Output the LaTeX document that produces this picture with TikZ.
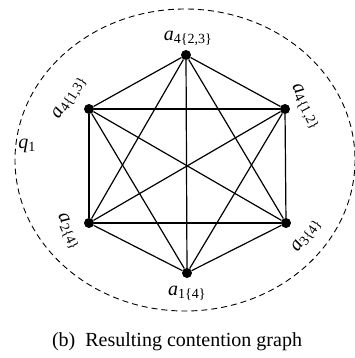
\documentclass[tikz,border=0pt]{standalone}
\usepackage{fontspec}
\setmainfont{Liberation Serif}
\newcommand\vlab[2]{\textit{#1}\textsubscript{#2}}
\begin{document}
\begin{tikzpicture}[x=1pt,y=-1pt,
  vtx/.style={circle,fill=black,inner sep=0pt,minimum size=10pt},
  edge/.style={line width=1.2pt},
  lbl/.style={inner sep=0pt,font=\fontsize{20}{24}\selectfont}]
\useasboundingbox (0,0) rectangle (354,358);
\draw[line width=0.9pt,dash pattern=on 6pt off 4pt] (185,160) ellipse [x radius=170, y radius=151];
\node[vtx] (t) at (186,55) {};
\node[vtx] (tl) at (89,109) {};
\node[vtx] (tr) at (285,109) {};
\node[vtx] (bl) at (89,223) {};
\node[vtx] (br) at (286,223) {};
\node[vtx] (b) at (187,273) {};
\foreach \u/\v in {t/tl,t/tr,t/bl,t/br,t/b,tl/tr,tl/bl,tl/br,tl/b,tr/bl,tr/br,tr/b,bl/br,bl/b,br/b}
  \draw[edge] (\u) -- (\v);
\node[lbl] (lt) at (188,38) {\vlab{a}{4\{2,3\}}};
\node[lbl,rotate=58] (ltl) at (70,98) {\vlab{a}{4\{1,3\}}};
\node[lbl,rotate=-62] (ltr) at (305,107) {\vlab{a}{4\{1,2\}}};
\node[lbl,rotate=-65] (lbl2) at (68,232) {\vlab{a}{2\{4\}}};
\node[lbl,rotate=55] (lbr) at (307,236) {\vlab{a}{3\{4\}}};
\node[lbl] (lb) at (187,293) {\vlab{a}{1\{4\}}};
\node[lbl] (q) at (27,146) {\vlab{q}{1}};
\node[inner sep=0pt,font=\fontsize{20}{24}\selectfont] (cap) at (177,342) {(b)\ \ Resulting contention graph};
\end{tikzpicture}
\end{document}
